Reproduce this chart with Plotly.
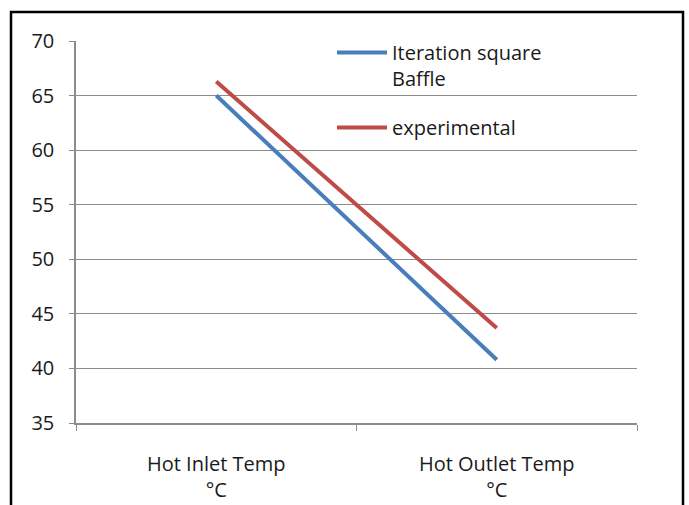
import plotly.graph_objects as go

# Hot-side temperatures for the two cases
categories = ["Hot Inlet Temp<br>°C", "Hot Outlet Temp<br>°C"]
iteration_square_baffle = [65.0, 40.8]
experimental = [66.3, 43.7]

y_ticks = [35, 40, 45, 50, 55, 60, 65, 70]

W, H = 689, 505
L, R, T, B = 76, 52, 41, 82
pw, ph = W - L - R, H - T - B

def px_to_paper_x(px):
    return (px - L) / pw

def px_to_paper_y(py):
    return (H - B - py) / ph

fig = go.Figure()
fig.add_trace(go.Scatter(
    x=categories, y=iteration_square_baffle, mode="lines",
    name="Iteration square<br>Baffle", legendgroup="a",
    line=dict(color="#4A7EBB", width=4),
))
fig.add_trace(go.Scatter(
    x=categories, y=experimental, mode="lines",
    name="experimental", legendgroup="b",
    line=dict(color="#BE4B48", width=4),
))

grid = "#8C8C8C"
fs = 20
fig.update_layout(
    width=W, height=H,
    margin=dict(l=L, r=R, t=T, b=B),
    paper_bgcolor="white", plot_bgcolor="white",
    font=dict(family="Open Sans, DejaVu Sans, sans-serif", size=fs, color="#1a1a1a"),
    showlegend=True,
    legend=dict(
        x=px_to_paper_x(332), y=px_to_paper_y(33),
        xanchor="left", yanchor="top",
        bgcolor="rgba(0,0,0,0)", valign="top",
        tracegroupgap=20, itemwidth=50,
        font=dict(size=fs),
    ),
    xaxis=dict(
        type="category", range=[-0.5, 1.5], automargin=False,
        tickson="boundaries", ticks="outside", ticklen=6, tickcolor=grid,
        showline=True, linecolor=grid, linewidth=1.5,
        showgrid=False, zeroline=False,
        tickfont=dict(size=fs), ticklabelstandoff=22,
    ),
    yaxis=dict(
        range=[35, 70], tickvals=y_ticks, automargin=False,
        ticks="outside", ticklen=5, tickcolor=grid,
        showline=True, linecolor=grid, linewidth=1.5,
        showgrid=True, gridcolor=grid, gridwidth=1.2,
        zeroline=False, tickfont=dict(size=fs), ticklabelstandoff=11,
    ),
    shapes=[dict(
        type="rect", xref="paper", yref="paper",
        x0=px_to_paper_x(11), x1=px_to_paper_x(683),
        y0=px_to_paper_y(520), y1=px_to_paper_y(12),
        line=dict(color="black", width=2.5), fillcolor="rgba(0,0,0,0)",
        layer="above",
    )],
)

fig.write_html("out.html")
